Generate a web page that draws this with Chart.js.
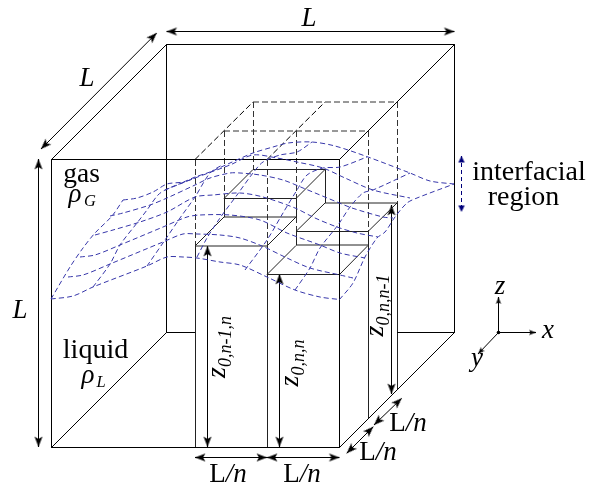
<!DOCTYPE html>
<html><head><meta charset="utf-8">
<style>html,body{margin:0;padding:0;background:#fff}canvas{display:block}</style>
<script src="https://cdn.jsdelivr.net/npm/chart.js@4"></script></head>
<body><canvas id="c" width="597" height="487"></canvas>
<script>
// Diagram geometry, in diagram units: [x1,y1,x2,y2]
const cubeEdges = [
 [51.5,159.5,339.5,159.5],[51.5,159.5,51.5,447.5],[51.5,447.5,339.5,447.5],[339.5,159.5,339.5,447.5],
 [166.5,44.5,454.5,44.5],[166.5,44.5,166.5,332.5],[454.5,44.5,454.5,332.5],
 [51.5,159.5,166.5,44.5],[339.5,159.5,454.5,44.5],[339.5,447.5,454.5,332.5],[51.5,447.5,166.5,332.5],
 [166.5,332.5,195,332.5],[397,332.5,454.5,332.5]
];
const columnEdges = [
 [195.5,246,195.5,447.5],[267.5,246,267.5,447.5],[368.5,245,368.5,418],[397.5,203,397.5,390],
 [195,246,267,246],[195,246,224,217],[224,217,296,217],[267,246,296,217],
 [224,198.5,296,198.5],[224,198.5,253,169.5],[253,169.5,325,169.5],[296,198.5,325,169.5],
 [224.5,198.5,224.5,217],[296.5,198.5,296.5,217],[325.5,169.5,325.5,203],
 [267,274.5,339.5,274.5],[267,274.5,296,245.5],[339.5,274.5,368,245.5],[296,245,368,245],
 [296,231.5,368,231.5],[296,231.5,325,203],[368,231.5,397,203],[325,203,397,203],[296.5,231.5,296.5,245],[368.5,231.5,368.5,245]
];
const projectionDashed = [
 [224,131,368,131],[253,102,397,102],[224.5,131,224.5,198],[253.5,102,253.5,169],[296.5,131,296.5,198],
 [368.5,131,368.5,231],[397.5,102,397.5,203],[195.5,160,195.5,246],[267.5,160,267.5,246],[296.5,217,296.5,231]
];
const projectionThin = [[195,159.5,253,102],[267,159.5,325,102]];
const doubleArrows = [
 [166.5,31.5,454.5,31.5],[156.7,33,41,149],[38.5,159,38.5,447],
 [195,457.5,267,457.5],[267,457.5,339.5,457.5],
 [207.5,246,207.5,447],[279.5,274,279.5,447],[391.5,205,391.5,394],
 [401.7,398.3,374,425],[373.3,426.7,346.7,453.3]
];
const regionArrow = [461.5,156,461.5,212];
const axisOrigin = [498.5,332.5];
const axisTips = [[498.5,297],[536,332.5],[478,354]];
// Interfacial surface: lines across
const rowA = [[51,299],[73,296],[93,287],[147,266],[167,257],[183,257],[197,258],[220,262],[240,265],[267,277],[295,290],[320,297],[339.5,299.5]];
const rowB = [[68,277],[83,275],[110,264],[163,242],[183,234],[197,234],[220,235],[240,238],[262,246],[287,258],[310,268],[340,275],[353,278]];
const rowC = [[80,257],[95,255],[120,245],[163,227],[187,217],[200,215],[230,215],[260,220],[287,233],[320,245],[340,253],[365,258]];
const rowD = [[95,235],[113,230],[140,222],[167,212],[195,197],[213,195],[240,193],[263,197],[295,208],[315,218],[337,227],[357,233],[378,237]];
const rowE = [[110,216],[123,213],[150,205],[167,198],[195,185],[210,178],[230,173],[240,173],[260,175],[283,180],[303,188],[337,202],[352,208],[383,217],[393,218]];
const rowF = [[165,190],[195,178],[230,165],[253,155],[277,158],[297,162],[323,168],[345,178],[373,190],[410,198]];
const rowG = [[123,200],[137,198],[153,192],[167,184],[183,182],[195,177],[210,172],[230,163],[253,153],[273,147],[288,143],[312,142],[335,146],[368,157],[410,173],[430,181],[454,184]];
// Interfacial surface: lines in depth
const depth0 = [[51,299],[70,267],[83,248],[95,233],[112,216],[123,200]];
const depth1 = [[93,287],[110,264],[120,245],[137,223],[147,210],[158,195],[167,189],[195,178]];
const depth2 = [[147,266],[165,240],[180,218],[195,197],[210,173],[222,165]];
const depth3 = [[197,257],[207,238],[220,218],[237,195],[253,173],[263,162],[280,155],[297,152],[312,142]];
const depth4 = [[245,270],[267,240],[283,213],[297,190],[307,175],[323,168],[340,167],[367,157]];
const depth5 = [[295,290],[310,268],[320,248],[338,225],[350,207],[363,193],[373,190],[410,173]];
const depth6 = [[339.5,299.5],[353,283],[365,257],[377,238],[385,232],[395,217],[407,203],[417,198],[454,184]];
const surface = [rowA,rowB,rowC,rowD,rowE,rowF,rowG,depth0,depth1,depth2,depth3,depth4,depth5,depth6];
// Text: [text, x, baseline, size, style]
const plainLabels = [
 ['L',309,26,27,'italic'],['L',87,86,27,'italic'],['L',20,318,27,'italic'],
 ['gas',81.5,182,27.5,'normal'],['liquid',95.5,358,28,'normal'],
 ['ρ',75,202,27,'italic'],['G',90,206,16.5,'italic'],
 ['ρ',88,383,27,'italic'],['L',101,387,16.5,'italic'],
 ['interfacial',529,180,28,'normal'],['region',523.5,205,28,'normal'],
 ['z',500,294,27,'italic'],['x',548,338,27,'italic'],['y',477,366,27,'italic']
];
const lengthLabels = [[228,481.5],[302,481.5],[408,431],[378,460]];
const heightLabels = [
 ['0,n-1,n',225,378],['0,n,n',298,386.5],['0,n,n-1',383,336.5]
];

function head(len,hw,notch,color){
  const s=document.createElement('canvas');s.width=s.height=28;
  const g=s.getContext('2d');g.fillStyle=color;g.beginPath();
  g.moveTo(14,14);g.lineTo(14-hw,14+len);g.lineTo(14,14+len-notch);g.lineTo(14+hw,14+len);g.closePath();g.fill();
  return s;
}
const bigHead=head(10.5,4,2.5,'#000'), smallHead=head(7,2.6,1.5,'#000'), navyHead=head(6.5,3.2,0,'#00007a');
const ang=(a,b,c,d)=>Math.atan2(c-a,-(d-b))*180/Math.PI;
const seg=(s,color,w,dash)=>({data:[{x:s[0],y:s[1]},{x:s[2],y:s[3]}],borderColor:color,borderWidth:w,borderDash:dash||[],pointRadius:0,showLine:true,fill:false});
const arrow=(s,img,color,w,dash,both)=>({data:[{x:s[0],y:s[1]},{x:s[2],y:s[3]}],borderColor:color,borderWidth:w,borderDash:dash||[],showLine:true,fill:false,
  pointStyle:img,pointRadius:both?[6,6]:[0,6],pointRotation:[ang(s[2],s[3],s[0],s[1]),ang(s[0],s[1],s[2],s[3])]});
const datasets=[];
surface.forEach(p=>datasets.push({data:p.map(q=>({x:q[0],y:q[1]})),borderColor:'rgb(55,55,170)',borderWidth:1,borderDash:[5,3],tension:0.3,pointRadius:0,showLine:true,fill:false}));
cubeEdges.forEach(s=>datasets.push(seg(s,'#000',1)));
columnEdges.forEach(s=>datasets.push(seg(s,'#222',1)));
projectionDashed.forEach(s=>datasets.push(seg(s,'#333',1,[6,3])));
projectionThin.forEach(s=>datasets.push(seg(s,'#000',1,[6,3])));
doubleArrows.forEach(s=>datasets.push(arrow(s,bigHead,'#000',1,null,true)));
datasets.push(arrow(regionArrow,navyHead,'#00007a',1,[4,3],true));
axisTips.forEach(t=>datasets.push(arrow([axisOrigin[0],axisOrigin[1],t[0],t[1]],smallHead,'#000',1,null,false)));
datasets.push({data:[{x:axisOrigin[0],y:axisOrigin[1]}],pointRadius:1.8,pointBackgroundColor:'#000',pointBorderWidth:0,showLine:false});

const SERIF='"Liberation Serif"';
const textPlugin={id:'text',afterDraw(ch){
  const c=ch.ctx,X=ch.scales.x,Y=ch.scales.y;
  c.save();c.fillStyle='#000';c.textBaseline='alphabetic';
  plainLabels.forEach(l=>{c.font=`${l[4]} ${l[3]}px ${SERIF}`;c.textAlign='center';c.fillText(l[0],X.getPixelForValue(l[1]),Y.getPixelForValue(l[2]));});
  c.textAlign='left';
  lengthLabels.forEach(l=>{
    c.font=`normal 27px ${SERIF}`;const a=c.measureText('L').width;
    c.font=`italic 27px ${SERIF}`;const b=c.measureText('/n').width;
    const x=X.getPixelForValue(l[0])-(a+b)/2,y=Y.getPixelForValue(l[1]);
    c.font=`normal 27px ${SERIF}`;c.fillText('L',x,y);
    c.font=`italic 27px ${SERIF}`;c.fillText('/n',x+a,y);
  });
  heightLabels.forEach(l=>{
    c.save();c.translate(X.getPixelForValue(l[1]),Y.getPixelForValue(l[2]));c.rotate(-Math.PI/2);
    c.font=`italic 28px ${SERIF}`;c.fillText('z',0,0);
    const w=c.measureText('z').width;
    c.font=`italic 18px ${SERIF}`;c.fillText(l[0],w,6);
    c.restore();
  });
  c.restore();
}};
new Chart(document.getElementById('c'),{type:'scatter',data:{datasets},plugins:[textPlugin],options:{
  responsive:false,animation:false,clip:false,layout:{padding:0,autoPadding:false},
  plugins:{legend:{display:false},tooltip:{enabled:false}},events:[],
  scales:{x:{type:'linear',min:0,max:597,display:false},y:{type:'linear',min:0,max:487,reverse:true,display:false}}
}});
</script></body></html>
